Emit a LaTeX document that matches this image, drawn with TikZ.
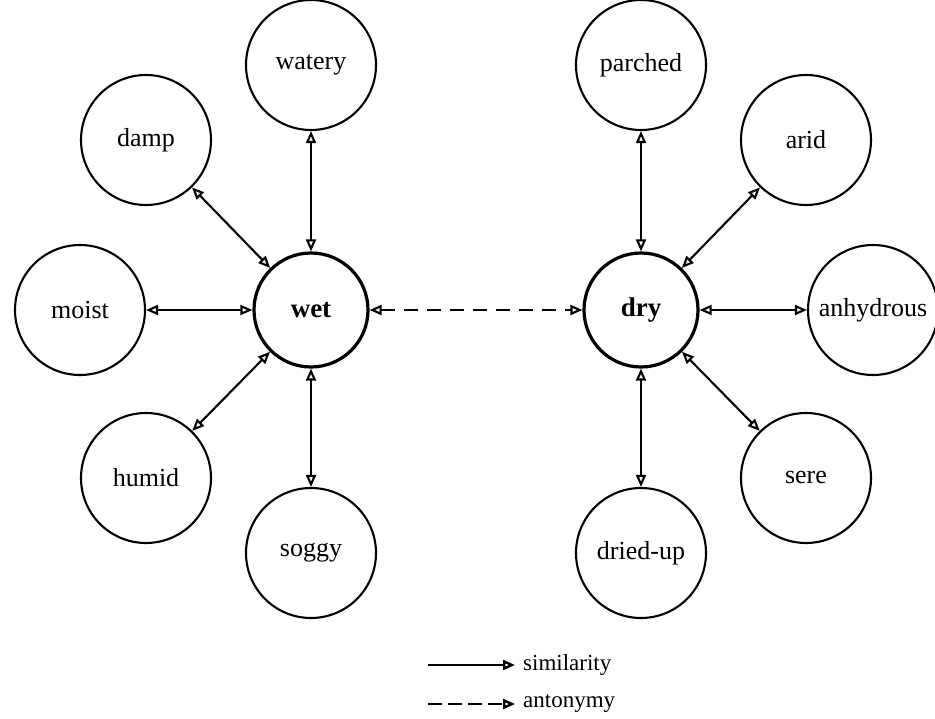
\documentclass[tikz,border=0pt]{standalone}
\usepackage{fontspec}
\setmainfont{Liberation Serif}
\usetikzlibrary{arrows.meta,positioning}

\tikzset{
  word/.style={circle, draw, line width=2.1pt, minimum size=130pt, inner sep=0pt, font=\fontsize{26}{28}\selectfont},
  hub/.style={word, line width=3.2pt, minimum size=114pt, font=\fontsize{27}{28}\selectfont\bfseries},
  sim/.style={line width=2.1pt, {Triangle[open,length=12pt,width=10pt]}-{Triangle[open,length=12pt,width=10pt]}},
  ant/.style={sim, dash pattern=on 14pt off 9pt},
  simkey/.style={line width=2.4pt, -{Triangle[open,length=12pt,width=10pt]}},
  antkey/.style={simkey, dash pattern=on 14pt off 6pt},
  keytext/.style={anchor=west, inner sep=0pt, xshift=8pt, font=\fontsize{23}{24}\selectfont}
}

\begin{document}
\begin{tikzpicture}[x=1pt, y=-1pt]
    \useasboundingbox (0,0) rectangle (935,719);
    \clip (0,0) rectangle (935,719);

    % centres
    \node[hub] (wet) at (311,310) {wet};
    \node[hub] (dry) at (641,310) {dry};

    % words like wet
    \node[word] (watery) at (311,65) {watery};
    \node[word] (damp) at (146,140) {damp};
    \node[word] (moist) at (80,310) {moist};
    \node[word] (humid) at (146,478) {humid};
    \node[word] (soggy) at (311,553) {soggy};

    % words like dry
    \node[word] (parched) at (641,65) {parched};
    \node[word] (arid) at (806,140) {arid};
    \node[word] (anhydrous) at (873,310) {anhydrous};
    \node[word] (sere) at (806,478) {sere};
    \node[word] (driedup) at (641,553) {dried-up};

    \foreach \w in {watery,damp,moist,humid,soggy}
        \draw[sim] (wet) -- (\w);
    \foreach \w in {parched,arid,anhydrous,sere,driedup}
        \draw[sim] (dry) -- (\w);
    \draw[ant] (wet) -- (dry);

    % key
    \coordinate (simA) at (428,665);
    \coordinate (simB) at (515,665);
    \coordinate (antA) at (428,704);
    \coordinate (antB) at (515,704);
    \draw[simkey] (simA) -- (simB);
    \draw[antkey] (antA) -- (antB);
    \node[keytext] (simlabel) at (simB) {similarity};
    \node[keytext] (antlabel) at (antB) {antonymy};
\end{tikzpicture}
\end{document}
